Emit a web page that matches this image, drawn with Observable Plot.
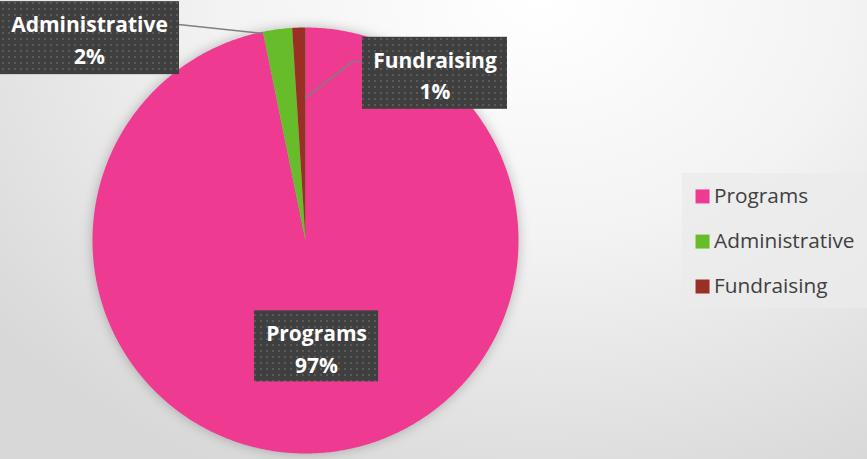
<!DOCTYPE html>
<html>
<head>
<meta charset="utf-8">
<script src="https://cdn.jsdelivr.net/npm/d3@7"></script>
<script src="https://cdn.jsdelivr.net/npm/@observablehq/plot@0.6"></script>
<style>
  html, body { margin: 0; padding: 0; }
  body {
    width: 867px; height: 459px; overflow: hidden;
    background: radial-gradient(ellipse 80% 115% at 62% 0%, #ffffff 0%, #f3f3f3 45%, #d8d8d8 100%);
  }
  #chart svg { display: block; background: transparent; }
</style>
</head>
<body>
<div id="chart"></div>
<script>
// ---- data ----
const categories = ["Programs", "Administrative", "Fundraising"];
const values = [96.8, 2.2, 1.0];
const percentLabels = ["97%", "2%", "1%"];
const colors = ["#EE3A91", "#67BD29", "#9A3024"];

// ---- layout (unit-circle coordinates, pie radius = 1) ----
const R = 213; // px per unit
const labelX = [0.052, -1.014, 0.608];
const labelY = [-0.497, 0.950, 0.785];
const labelW = [124, 180, 145]; // px
const labelH = [71, 73, 72];    // px
const leaderLines = [
  [],
  [[-0.596, 1.014], [-0.202, 0.972]],
  [[0.0, 0.671], [0.221, 0.840], [0.268, 0.840]]
];

// slices from d3.pie
const arcs = d3.pie().sort(null).value(d => d.value)(categories.map((c, i) => ({category: c, value: values[i]})));
const slicePts = [];
arcs.forEach(a => {
  const c = a.data.category;
  slicePts.push({category: c, x: 0, y: 0});
  const n = Math.max(4, Math.ceil((a.endAngle - a.startAngle) / (Math.PI / 360)));
  for (let k = 0; k <= n; k++) {
    const t = a.startAngle + (a.endAngle - a.startAngle) * k / n;
    slicePts.push({category: c, x: Math.sin(t), y: Math.cos(t)});
  }
});

const labels = categories.map((c, i) => ({
  category: c,
  text: c + "\n" + percentLabels[i],
  x: labelX[i], y: labelY[i],
  x1: labelX[i] - labelW[i] / 2 / R, x2: labelX[i] + labelW[i] / 2 / R,
  y1: labelY[i] - labelH[i] / 2 / R, y2: labelY[i] + labelH[i] / 2 / R
}));

const leaderPts = [];
leaderLines.forEach((pts, i) => pts.forEach(p => leaderPts.push({category: categories[i], x: p[0], y: p[1]})));

// legend
const legendRowY = [0.207, -0.005, -0.216];
const legend = categories.map((c, i) => ({category: c, y: legendRowY[i]}));

const chart = Plot.plot({
  width: 867,
  height: 459,
  margin: 0,
  style: {background: "transparent"},
  x: {domain: [-1, 1], range: [92, 518], axis: null},
  y: {domain: [-1, 1], range: [453, 27], axis: null},
  color: {domain: categories, range: colors},
  marks: [
    // legend box
    Plot.rect([{}], {x1: 1.770, x2: 2.66, y1: -0.319, y2: 0.315, fill: "#ebebeb", fillOpacity: 0.8}),
    Plot.line(slicePts, {x: "x", y: "y", z: "category", fill: "category", stroke: "none", curve: "linear-closed"}),
    Plot.line(leaderPts, {x: "x", y: "y", z: "category", stroke: "#7f7f7f", strokeWidth: 1.5}),
    Plot.rect(labels, {x1: "x1", x2: "x2", y1: "y1", y2: "y2", fill: "url(#dots)"}),
    Plot.text(labels, {x: "x", y: "y", text: "text", fill: "white", fontSize: 21, fontWeight: "bold",
      fontFamily: "'Open Sans', Lato, sans-serif", lineHeight: 1.52, textAnchor: "middle", lineAnchor: "middle"}),
    Plot.dot(legend, {x: 1.864, y: "y", symbol: "square", r: 7.9, fill: "category", stroke: "none"}),
    Plot.text(legend, {x: 1.918, y: "y", text: "category", textAnchor: "start", fill: "#404040",
      fontSize: 20.8, fontFamily: "'Open Sans', Lato, sans-serif"})
  ]
});

// pattern + shadows
const svgNS = "http://www.w3.org/2000/svg";
const defs = document.createElementNS(svgNS, "defs");
defs.innerHTML = `
  <pattern id="dots" width="6" height="6" patternUnits="userSpaceOnUse">
    <rect width="6" height="6" fill="#3f3f3f"/>
    <rect x="2" y="2" width="2" height="2" fill="#5a5a5a"/>
  </pattern>`;
chart.insertBefore(defs, chart.firstChild);
const groups = chart.querySelectorAll("g[aria-label]");
groups.forEach(g => {
  const lab = g.getAttribute("aria-label");
  if (lab === "rect" && g.querySelector("rect[fill='url(#dots)']")) {
    g.style.filter = "drop-shadow(3px 3px 3px rgba(0,0,0,0.55))";
  }
});
const lineGroups = chart.querySelectorAll("g[aria-label='line']");
if (lineGroups[0]) lineGroups[0].style.filter = "drop-shadow(0px 0px 6px rgba(0,0,0,0.25))";

document.getElementById("chart").appendChild(chart);
</script>
</body>
</html>
